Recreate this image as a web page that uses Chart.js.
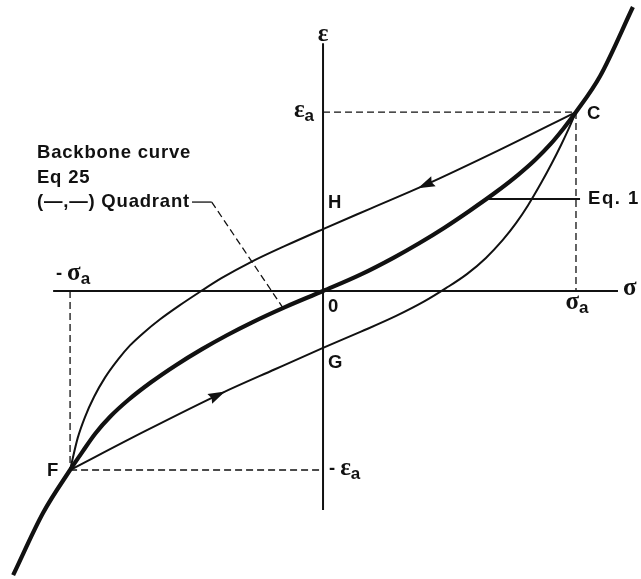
<!DOCTYPE html>
<html>
<head>
<meta charset="utf-8">
<script src="https://cdn.jsdelivr.net/npm/chart.js@4.4.1/dist/chart.umd.min.js"></script>
<style>
  html, body { margin: 0; padding: 0; background: #fff; }
  canvas { display: block; }
</style>
</head>
<body>
<canvas id="chart" width="641" height="579"></canvas>
<script>
// σ in units of σa, ε in units of εa

// backbone curve (Eq 25 / Eq. 1), runs through F and C
const backboneStress = [-1.225, -1.107, -1.0, -0.95, -0.9, -0.84, -0.77, -0.68, -0.58, -0.48, -0.38, -0.28, -0.15, 0,
  0.15, 0.28, 0.38, 0.48, 0.58, 0.68, 0.77, 0.84, 0.9, 0.95, 1.0, 1.095, 1.225]
const backboneStrain = [-1.587, -1.24, -1.0, -0.896, -0.796, -0.7, -0.609, -0.51, -0.413, -0.326, -0.247, -0.175, -0.09, 0,
  0.093, 0.187, 0.267, 0.354, 0.449, 0.549, 0.648, 0.735, 0.822, 0.907, 1.0, 1.2, 1.587]

// unloading branch C -> H -> F
const unloadStress = [1.0, 0.70, 0.40, 0.19, 0, -0.15, -0.289, -0.40, -0.486, -0.57, -0.644, -0.71, -0.763, -0.81, -0.862, -0.905, -0.941, -0.97, -1.0]
const unloadStrain = [1.0, 0.79, 0.59, 0.462, 0.346, 0.252, 0.159, 0.073, -0.004, -0.083, -0.158, -0.234, -0.304, -0.382, -0.484, -0.591, -0.704, -0.822, -1.0]

// reloading branch F -> G -> C
const reloadStress = [-1.0, -0.70, -0.40, -0.19, 0, 0.15, 0.289, 0.40, 0.486, 0.57, 0.644, 0.71, 0.763, 0.81, 0.862, 0.905, 0.941, 0.97, 1.0]
const reloadStrain = [-1.0, -0.78, -0.57, -0.437, -0.318, -0.227, -0.139, -0.058, 0.016, 0.096, 0.185, 0.284, 0.379, 0.478, 0.603, 0.715, 0.816, 0.903, 1.0]

// amplitude point C = (σa, εa), F = (-σa, -εa)
const amplitude = [1, 1]

// axis extents
const stressAxis = [-1.067, 1.166]
const strainAxis = [-1.223, 1.385]

// where the direction arrows sit on the branches
const unloadArrowAt = 0.375
const reloadArrowAt = -0.387

// leader lines for the two callouts
const quadrantLeaderStress = [-0.518, -0.44, -0.158]
const quadrantLeaderStrain = [0.497, 0.497, -0.095]
const eq1LeaderStress = [0.644, 1.016]
const eq1LeaderStrain = [0.514, 0.514]

const calloutLines = ['Backbone curve', 'Eq 25', '(\u2014,\u2014) Quadrant']

const INK = '#111'
const SANS = '"Liberation Sans", Arial, sans-serif'
const SERIF = '"Liberation Serif", "Times New Roman", serif'
const F_TEXT = `bold 18.5px ${SANS}`
const F_GREEK = `bold 25px ${SERIF}`
const F_SUB = `bold 17px ${SANS}`

const pts = (xs, ys) => xs.map((x, i) => ({ x, y: ys[i] }))

function line(label, data, opts) {
  return Object.assign({
    label,
    data,
    showLine: true,
    pointRadius: 0,
    pointHoverRadius: 0,
    borderColor: INK,
    borderWidth: 2,
    fill: false
  }, opts)
}

function valueOn(xs, ys, x) {
  for (let i = 0; i < xs.length - 1; i++) {
    const a = xs[i], b = xs[i + 1]
    if ((x - a) * (x - b) <= 0) {
      const t = (x - a) / (b - a)
      return ys[i] + t * (ys[i + 1] - ys[i])
    }
  }
  return ys[ys.length - 1]
}

const [sa, ea] = amplitude
const dash = { borderDash: [7, 4], borderWidth: 1.3 }
const smooth = { cubicInterpolationMode: 'monotone' }

const datasets = [
  line('εa level', pts([0, sa], [ea, ea]), dash),
  line('σa level', pts([sa, sa], [ea, 0]), dash),
  line('-σa level', pts([-sa, -sa], [0, -ea]), dash),
  line('-εa level', pts([-sa, 0], [-ea, -ea]), dash),
  line('quadrant leader', pts(quadrantLeaderStress.slice(1), quadrantLeaderStrain.slice(1)), dash),
  line('quadrant tick', pts(quadrantLeaderStress.slice(0, 2), quadrantLeaderStrain.slice(0, 2)), { borderWidth: 1.3 }),
  line('eq1 leader', pts(eq1LeaderStress, eq1LeaderStrain), { borderWidth: 2 }),
  line('σ axis', pts(stressAxis, [0, 0]), { borderWidth: 2 }),
  line('ε axis', pts([0, 0], strainAxis), { borderWidth: 2 }),
  line('unloading', pts(unloadStress, unloadStrain), Object.assign({ borderWidth: 2 }, smooth)),
  line('reloading', pts(reloadStress, reloadStrain), Object.assign({ borderWidth: 2 }, smooth)),
  line('backbone', pts(backboneStress, backboneStrain), Object.assign({ borderWidth: 4.2 }, smooth))
]

// text made of runs, e.g. main glyph + subscript
function drawRuns(ctx, runs, x, y, align) {
  const width = r => { ctx.font = r.font; ctx.letterSpacing = r.ls || '0px'; return ctx.measureText(r.t).width }
  let w = 0
  runs.forEach(r => { w += width(r) + (r.gap || 0) })
  let cx = align === 'right' ? x - w : align === 'center' ? x - w / 2 : x
  ctx.textAlign = 'left'
  ctx.textBaseline = 'middle'
  runs.forEach(r => {
    const rw = width(r)
    cx += r.gap || 0
    ctx.fillText(r.t, cx, y + (r.dy || 0))
    cx += rw
  })
  ctx.letterSpacing = '0px'
}

const text = t => [{ t, font: F_TEXT, ls: '0.8px' }]
const greek = (g, sub, prefix) => {
  const runs = []
  if (prefix) runs.push({ t: prefix, font: F_TEXT })
  runs.push({ t: g, font: F_GREEK, gap: prefix ? 5 : 0 })
  if (sub) runs.push({ t: sub, font: F_SUB, dy: 5 })
  return runs
}

const labels = [
  { at: [0, strainAxis[1]], dx: 0, dy: -9, align: 'center', runs: greek('\u03b5') },
  { at: [0, ea], dx: -9, dy: -1, align: 'right', runs: greek('\u03b5', 'a') },
  { at: [0, -ea], dx: 6, dy: -1, align: 'left', runs: greek('\u03b5', 'a', '-') },
  { at: [stressAxis[1], 0], dx: 5, dy: -2, align: 'left', runs: greek('\u03c3') },
  { at: [sa, 0], dx: 1, dy: 12, align: 'center', runs: greek('\u03c3', 'a') },
  { at: [-sa, 0], dx: 3, dy: -17, align: 'center', runs: greek('\u03c3', 'a', '-') },
  { at: [sa, ea], dx: 11, dy: 2, align: 'left', runs: text('C') },
  { at: [-sa, -ea], dx: -11, dy: 1, align: 'right', runs: text('F') },
  { at: [0, valueOn(unloadStress, unloadStrain, 0)], dx: 5, dy: -26, align: 'left', runs: text('H') },
  { at: [0, valueOn(reloadStress, reloadStrain, 0)], dx: 5, dy: 15, align: 'left', runs: text('G') },
  { at: [0, 0], dx: 5, dy: 16, align: 'left', runs: text('0') },
  { at: [eq1LeaderStress[1], eq1LeaderStrain[1]], dx: 8, dy: 0, align: 'left', runs: [{ t: 'Eq. 1', font: F_TEXT, ls: '1.5px' }] }
]

const annotations = {
  id: 'annotations',
  afterDatasetsDraw(chart) {
    const { ctx, scales: { x, y } } = chart
    ctx.save()
    ctx.fillStyle = INK

    // direction arrows on the loop
    const arrow = (xs, ys, at, sign) => {
      const px = x.getPixelForValue(at), py = y.getPixelForValue(valueOn(xs, ys, at))
      const bx = x.getPixelForValue(at - sign * 0.03), by = y.getPixelForValue(valueOn(xs, ys, at - sign * 0.03))
      let ux = px - bx, uy = py - by
      const len = Math.hypot(ux, uy)
      ux /= len; uy /= len
      const L = 17, W = 5.5
      ctx.beginPath()
      ctx.moveTo(px, py)
      ctx.lineTo(px - ux * L - uy * W, py - uy * L + ux * W)
      ctx.lineTo(px - ux * L * 0.88, py - uy * L * 0.88)
      ctx.lineTo(px - ux * L + uy * W, py - uy * L - ux * W)
      ctx.closePath()
      ctx.fill()
    }
    arrow(unloadStress, unloadStrain, unloadArrowAt, -1)
    arrow(reloadStress, reloadStrain, reloadArrowAt, 1)

    labels.forEach(l => {
      drawRuns(ctx, l.runs, x.getPixelForValue(l.at[0]) + l.dx, y.getPixelForValue(l.at[1]) + l.dy, l.align)
    })

    // callout block, left aligned, last line ends at the leader tick
    const tx = x.getPixelForValue(quadrantLeaderStress[0]) - 2
    const ty = y.getPixelForValue(quadrantLeaderStrain[0])
    ctx.font = F_TEXT
    ctx.letterSpacing = '0.8px'
    const left = tx - ctx.measureText(calloutLines[2]).width
    calloutLines.forEach((t, i) => {
      drawRuns(ctx, text(t), left, ty - (2 - i) * 24.5, 'left')
    })
    ctx.restore()
  }
}

new Chart(document.getElementById('chart'), {
  type: 'scatter',
  data: { datasets },
  options: {
    responsive: false,
    animation: false,
    events: [],
    layout: { padding: 0 },
    plugins: { legend: { display: false }, tooltip: { enabled: false } },
    elements: { line: { borderCapStyle: 'butt' } },
    scales: {
      x: { type: 'linear', display: false, min: -1.277, max: 1.257 },
      y: { type: 'linear', display: false, min: -1.609, max: 1.626 }
    }
  },
  plugins: [annotations]
})
</script>
</body>
</html>
